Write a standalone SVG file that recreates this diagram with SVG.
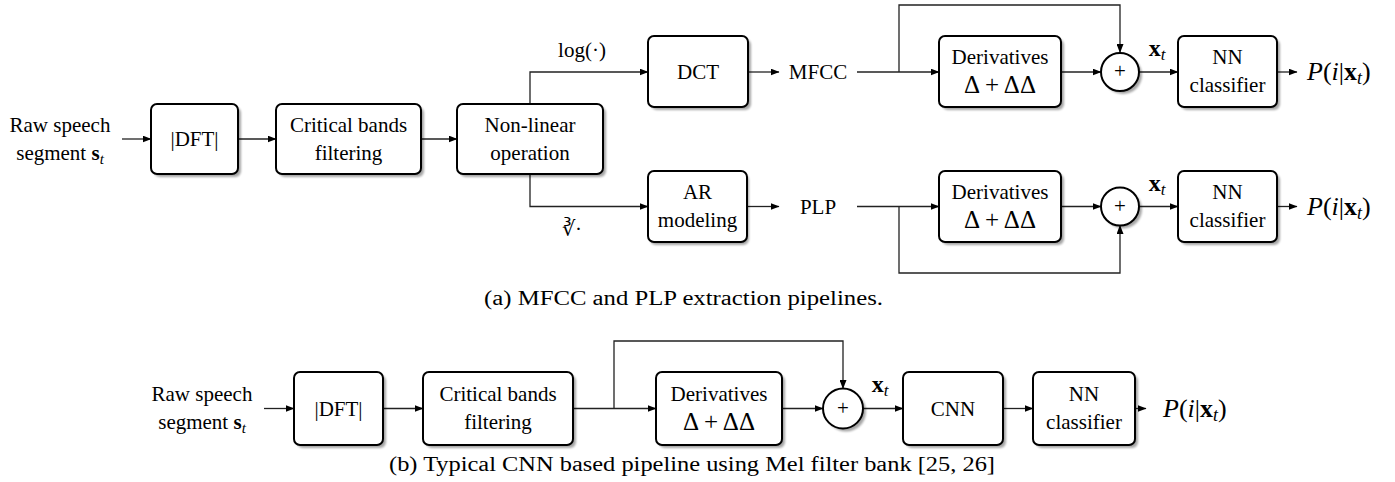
<svg xmlns="http://www.w3.org/2000/svg" width="1395" height="482" viewBox="0 0 1395 482">
<style>
text{font-family:"Liberation Serif","Times New Roman",serif;font-size:21px;fill:#000}
.c{text-anchor:middle}
.box{fill:#fff;stroke:#000;stroke-width:2}
.sh{fill:#000;opacity:.35;filter:url(#blur)}
.ln{fill:none;stroke:#222;stroke-width:1.3}
.ar{marker-end:url(#ah)}
.cap{font-size:20px}
.b{font-weight:bold}
.i{font-style:italic}
.d{font-size:25px}
.xt{font-size:24px}
.p{font-size:26px}
</style>
<defs>
<filter id="blur" x="-10%" y="-10%" width="130%" height="130%"><feGaussianBlur stdDeviation="1.2"/></filter>
<marker id="ah" markerUnits="userSpaceOnUse" markerWidth="9" markerHeight="7" refX="8.5" refY="3.5" orient="auto"><path d="M0,0 L9,3.5 L0,7 Z" fill="#000"/></marker>
</defs>

<g id="connectors">
<path class="ln ar" d="M122,139 H151"/>
<path class="ln ar" d="M238,139 H276"/>
<path class="ln ar" d="M421,139 H457"/>
<path class="ln ar" d="M530,104 V72 H648"/>
<path class="ln ar" d="M530,174 V206.5 H648"/>
<path class="ln ar" d="M748,72 H779"/>
<path class="ln ar" d="M857,72 H939"/>
<path class="ln ar" d="M899,72 V5 H1120 V52.5"/>
<path class="ln ar" d="M1061,72 H1101"/>
<path class="ln ar" d="M1139,72 H1178"/>
<path class="ln ar" d="M1277,72 H1297"/>
<path class="ln ar" d="M747,206.5 H779"/>
<path class="ln ar" d="M857,206.5 H939"/>
<path class="ln ar" d="M899,206.5 V273 H1120 V225.5"/>
<path class="ln ar" d="M1061,206.5 H1101"/>
<path class="ln ar" d="M1139,206.5 H1178"/>
<path class="ln ar" d="M1277,206.5 H1297"/>
<path class="ln ar" d="M264,408.5 H294"/>
<path class="ln ar" d="M383,408.5 H423"/>
<path class="ln ar" d="M573,408.5 H656"/>
<path class="ln ar" d="M614,408.5 V341 H843 V388.5"/>
<path class="ln ar" d="M782,408.5 H823"/>
<path class="ln ar" d="M863,408.5 H903"/>
<path class="ln ar" d="M1003,408.5 H1033"/>
<path class="ln ar" d="M1135,408.5 H1146"/>
</g>

<g id="labels">
<text class="c" x="582" y="57" font-size="22">log(·)</text>
<text class="c" x="572" y="236" font-size="24">∛·</text>
<text class="c xt" x="1157" y="56"><tspan class="b">x</tspan><tspan class="i" font-size="17" dy="4">t</tspan></text>
<text class="c xt" x="1157" y="191"><tspan class="b">x</tspan><tspan class="i" font-size="17" dy="4">t</tspan></text>
<text class="c xt" x="880" y="392"><tspan class="b">x</tspan><tspan class="i" font-size="17" dy="4">t</tspan></text>
</g>

<!-- (a) -->
<g id="input-a"><text class="c" x="60" y="131.5">Raw speech</text><text class="c" x="60" y="159.5">segment <tspan class="b">s</tspan><tspan class="i" font-size="15" dy="4">t</tspan></text></g>
<g id="dft-a"><rect class="sh" x="154" y="107" width="87" height="70" rx="6"/><rect class="box" x="151" y="104" width="87" height="70" rx="6"/><text class="c" x="194.5" y="146">|DFT|</text></g>
<g id="cbf-a"><rect class="sh" x="279" y="107" width="145" height="70" rx="6"/><rect class="box" x="276" y="104" width="145" height="70" rx="6"/><text class="c" x="348.5" y="131.5">Critical bands</text><text class="c" x="348.5" y="159.5">filtering</text></g>
<g id="nonlinear"><rect class="sh" x="460" y="107" width="146" height="70" rx="6"/><rect class="box" x="457" y="104" width="146" height="70" rx="6"/><text class="c" x="530" y="131.5">Non-linear</text><text class="c" x="530" y="159.5">operation</text></g>
<g id="dct"><rect class="sh" x="651" y="39" width="100" height="71" rx="6"/><rect class="box" x="648" y="36" width="100" height="71" rx="6"/><text class="c" x="698" y="79">DCT</text></g>
<g id="armod"><rect class="sh" x="650" y="174" width="99" height="71" rx="6"/><rect class="box" x="648" y="171" width="99" height="71" rx="6"/><text class="c" x="697.5" y="199">AR</text><text class="c" x="697.5" y="227">modeling</text></g>
<g id="mfcc"><text class="c" x="818" y="79">MFCC</text></g>
<g id="plp"><text class="c" x="818" y="213.5">PLP</text></g>
<g id="deriv-mfcc"><rect class="sh" x="942" y="39" width="122" height="71" rx="6"/><rect class="box" x="939" y="36" width="122" height="71" rx="6"/><text class="c" x="1000" y="64">Derivatives</text><text class="c d" x="1000" y="93">Δ + ΔΔ</text></g>
<g id="deriv-plp"><rect class="sh" x="942" y="174" width="122" height="71" rx="6"/><rect class="box" x="939" y="171" width="122" height="71" rx="6"/><text class="c" x="1000" y="199">Derivatives</text><text class="c d" x="1000" y="228">Δ + ΔΔ</text></g>
<g id="sum-mfcc"><circle class="sh" cx="1123" cy="75" r="19"/><circle class="box" cx="1120" cy="72" r="19"/><text class="c" x="1120" y="78">+</text></g>
<g id="sum-plp"><circle class="sh" cx="1123" cy="209.5" r="19"/><circle class="box" cx="1120" cy="206.5" r="19"/><text class="c" x="1120" y="212.5">+</text></g>
<g id="nn-mfcc"><rect class="sh" x="1181" y="39" width="99" height="71" rx="6"/><rect class="box" x="1178" y="36" width="99" height="71" rx="6"/><text class="c" x="1227.5" y="64">NN</text><text class="c" x="1227.5" y="92">classifier</text></g>
<g id="nn-plp"><rect class="sh" x="1181" y="174" width="99" height="71" rx="6"/><rect class="box" x="1178" y="171" width="99" height="71" rx="6"/><text class="c" x="1227.5" y="199">NN</text><text class="c" x="1227.5" y="227">classifier</text></g>
<g id="out-mfcc"><text class="p" x="1307" y="80"><tspan class="i">P</tspan>(<tspan class="i">i</tspan>|<tspan class="b">x</tspan><tspan class="i" font-size="18" dy="4">t</tspan><tspan dy="-4">)</tspan></text></g>
<g id="out-plp"><text class="p" x="1307" y="215"><tspan class="i">P</tspan>(<tspan class="i">i</tspan>|<tspan class="b">x</tspan><tspan class="i" font-size="18" dy="4">t</tspan><tspan dy="-4">)</tspan></text></g>
<g id="caption-a"><text class="cap" x="484" y="305" textLength="399" lengthAdjust="spacingAndGlyphs">(a) MFCC and PLP extraction pipelines.</text></g>

<!-- (b) -->
<g id="input-b"><text class="c" x="202" y="400.5">Raw speech</text><text class="c" x="202" y="428.5">segment <tspan class="b">s</tspan><tspan class="i" font-size="15" dy="4">t</tspan></text></g>
<g id="dft-b"><rect class="sh" x="297" y="375" width="89" height="73" rx="6"/><rect class="box" x="294" y="372" width="89" height="73" rx="6"/><text class="c" x="338.5" y="415.5">|DFT|</text></g>
<g id="cbf-b"><rect class="sh" x="426" y="375" width="150" height="73" rx="6"/><rect class="box" x="423" y="372" width="150" height="73" rx="6"/><text class="c" x="498" y="400.5">Critical bands</text><text class="c" x="498" y="428.5">filtering</text></g>
<g id="deriv-b"><rect class="sh" x="659" y="375" width="126" height="73" rx="6"/><rect class="box" x="656" y="372" width="126" height="73" rx="6"/><text class="c" x="719" y="400.5">Derivatives</text><text class="c d" x="719" y="430">Δ + ΔΔ</text></g>
<g id="sum-b"><circle class="sh" cx="846" cy="411.5" r="20"/><circle class="box" cx="843" cy="408.5" r="20"/><text class="c" x="843" y="414.5">+</text></g>
<g id="cnn"><rect class="sh" x="906" y="375" width="100" height="73" rx="6"/><rect class="box" x="903" y="372" width="100" height="73" rx="6"/><text class="c" x="953" y="415.5">CNN</text></g>
<g id="nn-b"><rect class="sh" x="1036" y="375" width="102" height="73" rx="6"/><rect class="box" x="1033" y="372" width="102" height="73" rx="6"/><text class="c" x="1084" y="400.5">NN</text><text class="c" x="1084" y="428.5">classifier</text></g>
<g id="out-b"><text class="p" x="1163" y="417"><tspan class="i">P</tspan>(<tspan class="i">i</tspan>|<tspan class="b">x</tspan><tspan class="i" font-size="18" dy="4">t</tspan><tspan dy="-4">)</tspan></text></g>
<g id="caption-b"><text class="cap" x="389" y="471" textLength="606" lengthAdjust="spacingAndGlyphs">(b) Typical CNN based pipeline using Mel filter bank [25, 26]</text></g>
</svg>
